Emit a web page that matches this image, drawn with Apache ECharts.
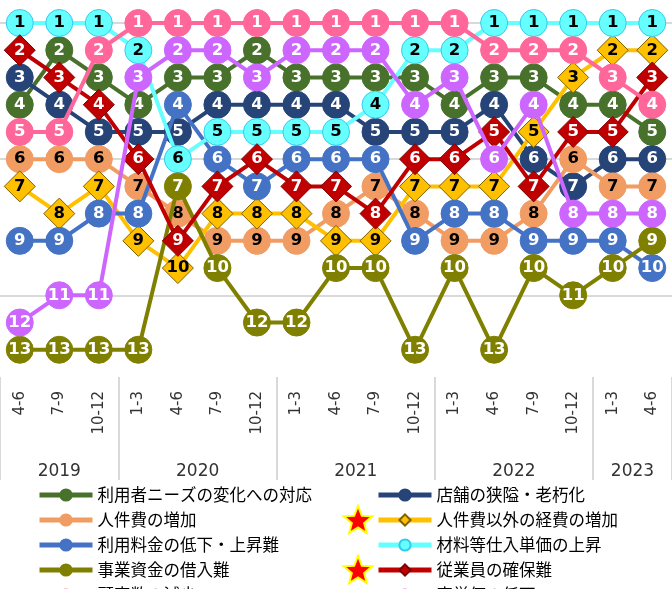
<!DOCTYPE html>
<html><head><meta charset="utf-8">
<script src="https://cdn.jsdelivr.net/npm/echarts@6/dist/echarts.min.js"></script>
<style>html,body{margin:0;padding:0;background:#fff;overflow:hidden}#c{width:672px;height:589px;}</style>
</head><body><div id="c"></div>
<script>
// ---- data ----
const quarterLabels = ['4-6','7-9','10-12','1-3','4-6','7-9','10-12','1-3','4-6','7-9','10-12','1-3','4-6','7-9','10-12','1-3','4-6'];
const quarterYears  = ['2019','2019','2019','2020','2020','2020','2020','2021','2021','2021','2021','2022','2022','2022','2022','2023','2023'];
const yearLabels = ['2019','2020','2021','2022','2023'];
const gridRanks = [1, 6, 11];

const needsChange   = [4,2,3,4,3,3,2,3,3,3,3,4,3,3,4,4,5];     // 利用者ニーズの変化への対応
const storeAging    = [3,4,5,5,5,4,4,4,4,5,5,5,4,6,7,6,6];     // 店舗の狭隘・老朽化
const laborCost     = [6,6,6,7,8,9,9,9,8,7,8,9,9,8,6,7,7];     // 人件費の増加
const otherCost     = [7,8,7,9,10,8,8,8,9,9,7,7,7,5,3,2,2];    // 人件費以外の経費の増加
const priceDrop     = [9,9,8,8,4,6,7,6,6,6,9,8,8,9,9,9,10];    // 利用料金の低下・上昇難
const materialCost  = [1,1,1,2,6,5,5,5,5,4,2,2,1,1,1,1,1];     // 材料等仕入単価の上昇
const fundingDiff   = [13,13,13,13,7,10,12,12,10,10,13,10,13,10,11,10,9]; // 事業資金の借入難
const staffShortage = [2,3,4,6,9,7,6,7,7,8,6,6,5,7,5,5,3];     // 従業員の確保難
const customerDrop  = [5,5,2,1,1,1,1,1,1,1,1,1,2,2,2,3,4];     // 顧客数の減少
const unitPriceDrop = [12,11,11,3,2,2,3,2,2,2,4,3,6,4,8,8,8];  // 客単価の低下

const names = ['利用者ニーズの変化への対応','店舗の狭隘・老朽化','人件費の増加','人件費以外の経費の増加','利用料金の低下・上昇難','材料等仕入単価の上昇','事業資金の借入難','従業員の確保難','顧客数の減少','客単価の低下'];
const values = [needsChange, storeAging, laborCost, otherCost, priceDrop, materialCost, fundingDiff, staffShortage, customerDrop, unitPriceDrop];
const starred = ['人件費以外の経費の増加','従業員の確保難'];

// ---- styles ----
const styles = [
  {color:'#48712C', border:'#48712C', text:'#fff', symbol:'circle'},
  {color:'#264478', border:'#264478', text:'#fff', symbol:'circle'},
  {color:'#F19C62', border:'#F19C62', text:'#000', symbol:'circle'},
  {color:'#FFC000', border:'#7F6000', text:'#000', symbol:'diamond'},
  {color:'#4472C4', border:'#4472C4', text:'#fff', symbol:'circle'},
  {color:'#66FFFF', border:'#33CCEE', text:'#000', symbol:'circle'},
  {color:'#808000', border:'#808000', text:'#fff', symbol:'circle'},
  {color:'#C00000', border:'#7F0000', text:'#fff', symbol:'diamond'},
  {color:'#FF6699', border:'#FF6699', text:'#fff', symbol:'circle'},
  {color:'#CC66FF', border:'#CC66FF', text:'#fff', symbol:'circle'}
];

const cats = quarterLabels.map((q,i)=>quarterYears[i]+' '+q);
const yearStart = [0,3,7,11,15];

const series = [{
  type:'line', data:[], silent:true, z:0,
  markLine:{silent:true, z:0, symbol:'none', label:{show:false},
    lineStyle:{color:'#D9D9D9', width:2, type:'solid'},
    data: gridRanks.map(r=>({yAxis:r}))}
}];
names.forEach((n,i)=>{
  const s = styles[i];
  series.push({
    name:n, type:'line', data:values[i], clip:false, z:2+i*0.01,
    symbol:s.symbol, symbolSize: s.symbol==='diamond'?31:27,
    lineStyle:{color:s.color, width:4},
    itemStyle:{color:s.color, borderColor:s.border, borderWidth:1},
    label:{show:true, position:'inside', formatter:'{c}', color:s.text, fontWeight:'bold',
      fontSize:16.5, fontFamily:'DejaVu Sans'},
    emphasis:{disabled:true}
  });
});

const chart = echarts.init(document.getElementById('c'), null, {renderer:'canvas'});
const legendCommon = {orient:'vertical', itemWidth:53, itemHeight:14, itemGap:5, height:300,
  lineStyle:{width:5},
  textStyle:{fontSize:16.5, fontFamily:'Noto Sans CJK JP', color:'#000', lineHeight:20},
  selectedMode:false};
const rightNames = names.filter((n,i)=>i%2===1);
chart.setOption({
  animation:false,
  backgroundColor:'#fff',
  grid:{left:0, top:23, width:675, height:354},
  xAxis:{type:'category', data:cats, boundaryGap:true,
    axisLine:{show:false},
    axisTick:{show:true, length:103, lineStyle:{color:'#D9D9D9', width:2},
      interval:(i)=>yearStart.indexOf(i)>=0},
    axisLabel:{rotate:90, margin:14, fontSize:15, fontFamily:'DejaVu Sans', color:'#333',
      interval:0, formatter:(v)=>v.split(' ')[1]}},
  yAxis:{type:'value', inverse:true, min:1, max:14, show:false, splitLine:{show:false}},
  legend:[
    Object.assign({left:32, top:480, data:names.filter((n,i)=>i%2===0)}, legendCommon),
    Object.assign({left:371, top:480, data:rightNames}, legendCommon)
  ],
  series
});

// year labels centered under their quarter groups, computed from axis scale
const graphic = [];
yearLabels.forEach((y)=>{
  const idx = quarterYears.map((q,i)=>q===y?i:-1).filter(i=>i>=0);
  const x0 = chart.convertToPixel({xAxisIndex:0}, cats[idx[0]]);
  const x1 = chart.convertToPixel({xAxisIndex:0}, cats[idx[idx.length-1]]);
  graphic.push({type:'text', x:(x0+x1)/2, y:472, style:{text:y, fontSize:17, fontFamily:'DejaVu Sans',
    fill:'#333', align:'center', verticalAlign:'middle'}});
});
// stars beside the highlighted legend entries
function starPts(cx, cy, R, r){
  const p=[]; for(let k=0;k<10;k++){const a=-Math.PI/2+k*Math.PI/5; const rad=k%2?r:R; p.push([cx+rad*Math.cos(a), cy+rad*Math.sin(a)]);} return p;
}
starred.forEach(n=>{
  const row = rightNames.indexOf(n);
  graphic.push({type:'polygon', shape:{points:starPts(358, 521+(row-1)*25, 15, 6.5)},
    style:{fill:'#FF0000', stroke:'#FFFF00', lineWidth:2}});
});
chart.setOption({graphic});
</script></body></html>
